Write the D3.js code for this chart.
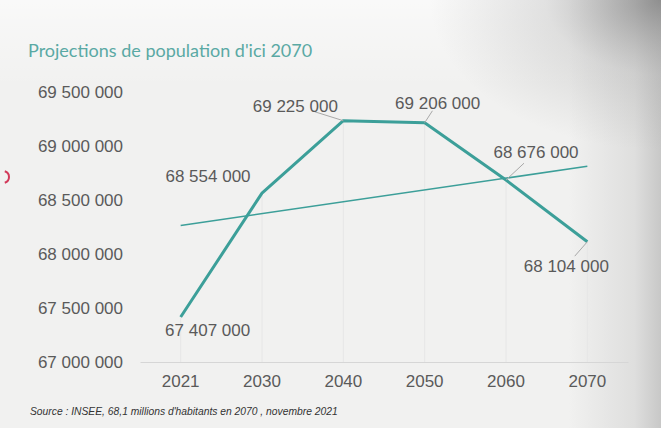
<!DOCTYPE html>
<html>
<head>
<meta charset="utf-8">
<script src="https://cdn.jsdelivr.net/npm/d3@7"></script>
<style>
  html, body { margin: 0; padding: 0; background: #f2f2f1; }
  svg { display: block; }
</style>
</head>
<body>
<svg id="chart" width="661" height="428"></svg>
<script>
// Population projections (INSEE, novembre 2021)
const years = ["2021", "2030", "2040", "2050", "2060", "2070"];
const population = [67407000, 68554000, 69225000, 69206000, 68676000, 68104000];
const yTicks = [67000000, 67500000, 68000000, 68500000, 69000000, 69500000];
// label offsets (dx, dy) from each point, and whether a leader line is drawn
const labelDx = [27, -54, -48, 13, 30, -21];
const labelDy = [13, -17, -15, -20, -28, 24];
const leader = [false, false, true, true, true, true];

const title = "Projections de population d'ici 2070";
const source = "Source : INSEE, 68,1 millions d'habitants en 2070 , novembre 2021";

const W = 661, H = 428;
const teal = "#3c9f99";
const grey = "#5a5a5a";
const fmt = v => d3.format(",")(v).replace(/,/g, " ");

const svg = d3.select("#chart");

// paper background with darker edges
const defs = svg.append("defs");
const edge = defs.append("linearGradient").attr("id", "edge")
  .attr("x1", "0").attr("x2", "1").attr("y1", "0").attr("y2", "0");
edge.append("stop").attr("offset", "0.86").attr("stop-color", "#8a8a8a").attr("stop-opacity", 0);
edge.append("stop").attr("offset", "0.96").attr("stop-color", "#8a8a8a").attr("stop-opacity", 0.18);
edge.append("stop").attr("offset", "1").attr("stop-color", "#8a8a8a").attr("stop-opacity", 0.4);
const corner = defs.append("radialGradient").attr("id", "corner")
  .attr("cx", "1").attr("cy", "0").attr("r", "0.35");
corner.append("stop").attr("offset", "0").attr("stop-color", "#7a7a7a").attr("stop-opacity", 0.75);
corner.append("stop").attr("offset", "0.5").attr("stop-color", "#9a9a9a").attr("stop-opacity", 0.25);
corner.append("stop").attr("offset", "1").attr("stop-color", "#9a9a9a").attr("stop-opacity", 0);
const topLight = defs.append("linearGradient").attr("id", "topLight")
  .attr("x1", "0").attr("x2", "0").attr("y1", "0").attr("y2", "1");
topLight.append("stop").attr("offset", "0").attr("stop-color", "#ffffff").attr("stop-opacity", 0.6);
topLight.append("stop").attr("offset", "0.2").attr("stop-color", "#ffffff").attr("stop-opacity", 0);

svg.append("rect").attr("width", W).attr("height", H).attr("fill", "#f1f1f0");
svg.append("rect").attr("width", W).attr("height", H).attr("fill", "url(#topLight)");
svg.append("rect").attr("width", W).attr("height", H).attr("fill", "url(#edge)");
svg.append("rect").attr("width", W).attr("height", H).attr("fill", "url(#corner)");

// small red mark on the left margin
svg.append("path")
  .attr("d", d3.arc()({ innerRadius: 5, outerRadius: 7, startAngle: 0.3, endAngle: Math.PI - 0.3 }))
  .attr("transform", "translate(3,177)")
  .attr("fill", "#d23a5a");

// scales
const x = d3.scaleBand().domain(years).range([140, 628]);
const cx = d => x(d) + x.bandwidth() / 2;
const y = d3.scaleLinear().domain([67000000, 69500000]).range([361, 91]);

// title
svg.append("text")
  .attr("x", 28).attr("y", 57)
  .attr("font-family", "Lato, 'Open Sans', sans-serif")
  .attr("font-size", 18)
  .attr("fill", "#5aa9a4")
  .text(title);

// y axis labels
const yAxis = d3.axisLeft(y).tickValues(yTicks).tickFormat(fmt).tickSize(0).tickPadding(0);
const gy = svg.append("g").attr("transform", "translate(123,0)").call(yAxis);
gy.select(".domain").remove();
gy.selectAll("text")
  .attr("font-family", "'Liberation Sans', Arial, sans-serif")
  .attr("font-size", 17).attr("fill", grey).attr("dy", "0.36em");

// x axis baseline and labels
const xAxis = d3.axisBottom(x).tickSize(0).tickPadding(13);
const gx = svg.append("g").attr("transform", "translate(0,362)").call(xAxis);
gx.select(".domain").attr("stroke", "#d6d6d6").attr("stroke-width", 1);
gx.selectAll("text")
  .attr("font-family", "'Liberation Sans', Arial, sans-serif")
  .attr("font-size", 17).attr("fill", grey);

const pts = years.map((yr, i) => ({ yr, v: population[i], i }));

// drop lines from each point to the baseline
svg.append("g").selectAll("line").data(pts).join("line")
  .attr("x1", d => cx(d.yr)).attr("x2", d => cx(d.yr))
  .attr("y1", d => y(d.v)).attr("y2", 362)
  .attr("stroke", "#e6e6e6").attr("stroke-width", 1);

// linear trend over the series (x = 1..n)
const n = population.length;
const xs = d3.range(1, n + 1);
const mx = d3.mean(xs), my = d3.mean(population);
const slope = d3.sum(xs, (xi, k) => (xi - mx) * (population[k] - my)) / d3.sum(xs, xi => (xi - mx) ** 2);
const icpt = my - slope * mx;
const trend = xs.map((xi, k) => ({ yr: years[k], v: icpt + slope * xi }));

svg.append("path")
  .datum([trend[0], trend[n - 1]])
  .attr("d", d3.line().x(d => cx(d.yr)).y(d => y(d.v)))
  .attr("fill", "none").attr("stroke", teal).attr("stroke-width", 1.5);

// main series
svg.append("path")
  .datum(pts)
  .attr("d", d3.line().x(d => cx(d.yr)).y(d => y(d.v)))
  .attr("fill", "none").attr("stroke", teal).attr("stroke-width", 3)
  .attr("stroke-linejoin", "round");

// leader lines and value labels
const lab = svg.append("g");
pts.forEach(d => {
  const px = cx(d.yr), py = y(d.v);
  const lx = px + labelDx[d.i], ly = py + labelDy[d.i];
  if (leader[d.i]) {
    const t = 0.6;
    lab.append("line")
      .attr("x1", px).attr("y1", py)
      .attr("x2", px + (lx - px) * t).attr("y2", py + (ly - py) * t)
      .attr("stroke", "#a8a8a8").attr("stroke-width", 1);
  }
  lab.append("text")
    .attr("x", lx).attr("y", ly).attr("dy", "0.36em")
    .attr("text-anchor", "middle")
    .attr("font-family", "'Liberation Sans', Arial, sans-serif")
    .attr("font-size", 17).attr("fill", grey)
    .text(fmt(d.v));
});

// source line
svg.append("text")
  .attr("x", 30).attr("y", 415)
  .attr("font-family", "'Liberation Sans', Arial, sans-serif")
  .attr("font-style", "italic")
  .attr("font-size", 10.3).attr("fill", "#333")
  .text(source);
</script>
</body>
</html>
